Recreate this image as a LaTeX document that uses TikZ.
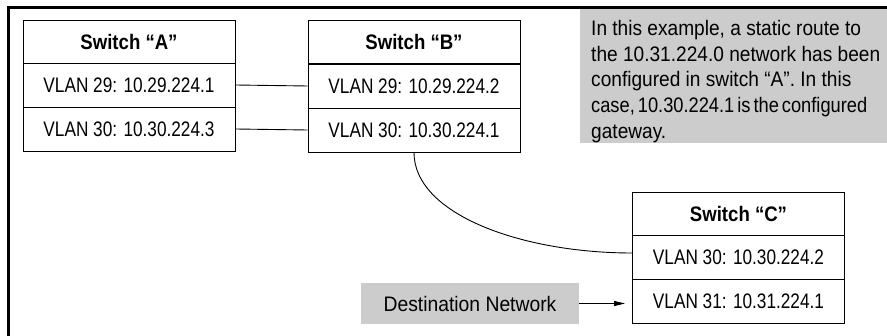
\documentclass[tikz,border=0pt]{standalone}
\usepackage{fontspec}
\setmainfont{Liberation Sans}
\newfontfamily\vlanfont[FakeStretch=0.82]{Liberation Sans}
\newfontfamily\headfont[FakeStretch=0.885]{Liberation Sans}
\newfontfamily\notefont[FakeStretch=0.91]{Liberation Sans}
\newfontfamily\notetight[FakeStretch=0.87]{Liberation Sans}
\newfontfamily\destfont[FakeStretch=0.92]{Liberation Sans}
\usetikzlibrary{arrows.meta}
\definecolor{boxgray}{RGB}{204,204,204}
\begin{document}
\begin{tikzpicture}[x=1pt,y=-1pt,
  cell/.style={draw, line width=0.9pt, minimum width=212pt, minimum height=44pt, inner sep=0pt,
    font=\vlanfont\fontsize{21}{24}\selectfont},
  head/.style={cell, minimum height=43pt, font=\headfont\bfseries\fontsize{21}{24}\selectfont},
  frameline/.style={line width=2.5pt},
  link/.style={line width=0.9pt}
]
\useasboundingbox (0,0) rectangle (887,336);
\draw[frameline] (8.5,336) -- (8.5,7.5) -- (887,7.5);
\fill[boxgray] (580,9) rectangle (887,143);
\node[anchor=north west, inner sep=0pt, align=left,
  font=\notefont\fontsize{21}{25.7}\selectfont] (note) at (591,20)
  {In this example, a static route to\\the 10.31.224.0 network has been\\configured in switch “A”. In this\\{\notetight\spaceskip=3pt case, 10.30.224.1 is the configured}\\gateway.};

\node[head] (ah) at (129,41.5) {Switch “A”};
\node[cell] (a1) at (129,85) {VLAN 29: 10.29.224.1};
\node[cell] (a2) at (129,129) {VLAN 30: 10.30.224.3};

\node[head] (bh) at (414,42) {Switch “B”};
\node[cell] (b1) at (414,86) {VLAN 29: 10.29.224.2};
\node[cell] (b2) at (414,130) {VLAN 30: 10.30.224.1};

\node[head] (ch) at (738.5,213.5) {Switch “C”};
\node[cell] (c1) at (738.5,257) {VLAN 30: 10.30.224.2};
\node[cell] (c2) at (738.5,301) {VLAN 31: 10.31.224.1};

\node[fill=boxgray, minimum width=218pt, minimum height=41pt, inner sep=0pt,
  font=\destfont\fontsize{21}{24}\selectfont] (dest) at (470,303.5) {Destination Network};

\draw[link] (a1.east) -- (b1.west);
\draw[link] (a2.east) -- (b2.west);
\draw[link] (b2.south) .. controls +(0,62) and +(-110,0) .. ([yshift=4pt]c1.west);
\draw[link, -{Triangle[length=11pt,width=5pt]}, shorten >=7pt] (dest.east) -- (dest.east -| c2.west);
\end{tikzpicture}
\end{document}
